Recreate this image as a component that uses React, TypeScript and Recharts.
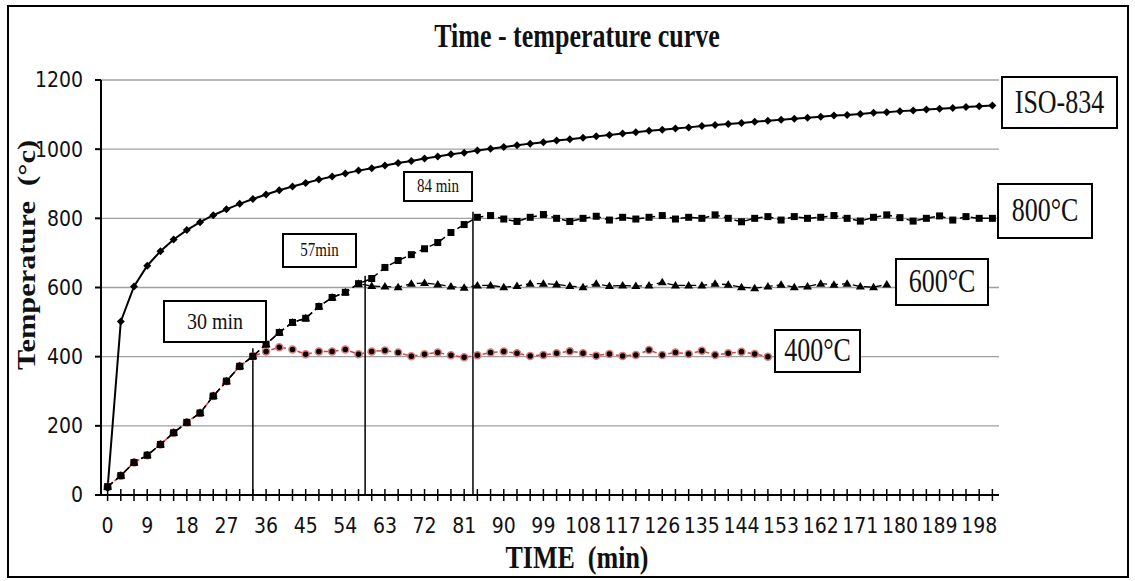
import React from 'react';
import {
  ComposedChart,
  Line,
  XAxis,
  YAxis,
  CartesianGrid,
  ReferenceLine,
} from 'recharts';

// time axis, minutes (one point every 3 min)
const times = [
  0, 3, 6, 9, 12, 15, 18, 21, 24, 27, 30, 33, 36, 39, 42, 45, 48, 51, 54, 57,
  60, 63, 66, 69, 72, 75, 78, 81, 84, 87, 90, 93, 96, 99, 102, 105, 108, 111,
  114, 117, 120, 123, 126, 129, 132, 135, 138, 141, 144, 147, 150, 153, 156,
  159, 162, 165, 168, 171, 174, 177, 180, 183, 186, 189, 192, 195, 198, 201,
];

const iso834 = [
  20, 502, 603, 663, 705, 739, 766, 789, 809, 826, 842, 856, 869, 881, 892, 902,
  912, 921, 930, 938, 945, 953, 960, 966, 973, 979, 985, 990, 996, 1001, 1006,
  1011, 1016, 1020, 1025, 1029, 1033, 1037, 1041, 1045, 1049, 1053, 1056, 1060,
  1063, 1067, 1070, 1073, 1076, 1079, 1082, 1085, 1088, 1091, 1094, 1097, 1099,
  1102, 1105, 1107, 1110, 1112, 1115, 1117, 1119, 1122, 1124, 1126,
];

const furnace800 = [
  24, 56, 94, 115, 146, 180, 210, 237, 286, 329, 372, 401,
  436, 470, 499, 511, 545, 571, 586, 611, 626, 658, 678, 695, 712, 730, 759, 782,
  803, 808, 798, 791, 803, 811, 800, 791, 800, 806, 795, 803, 798, 803, 808, 798,
  803,
  800, 810, 800, 790, 800, 805, 795, 805, 800, 803, 808, 800, 792, 803, 810, 802,
  792, 800, 807, 795, 805, 800, 800,
];

const furnace600 = [
  24, 56, 94, 115, 146, 180, 210, 237, 286, 329, 372, 401,
  436, 470, 499, 511, 545, 571, 586, 611,
  604, 603, 601, 611, 613, 609, 603, 599, 606, 606, 601, 604, 611, 611,
  609, 604, 601, 611, 604, 606, 604, 606, 615, 606, 606,
  606, 611, 608, 601, 598, 603, 608, 601, 603, 611, 608, 611, 603, 601, 609,
  null, null, null, null, null, null, null, null,
];

const furnace400 = [
  24, 56, 94, 115, 146, 180, 210, 237, 286, 329, 372, 401,
  415, 427, 421, 407, 415, 415, 421, 407, 415, 418, 412, 401, 407, 412, 404, 398,
  404, 412, 415, 410, 402, 405,
  410, 416, 410, 403, 408, 402, 405, 419, 405, 412, 408, 417, 405, 410, 414, 408, 400,
  null, null, null, null, null, null, null, null, null, null, null, null, null,
  null, null, null, null,
];

const yTicks = [0, 200, 400, 600, 800, 1000, 1200];

// where the furnace reached its target (vertical marker lines)
const markTimes = [33, 58.5, 83];
const markTops = [424, 634, 819];

const data = times.map((t, i) => ({
  t,
  iso: iso834[i],
  f800: furnace800[i],
  f600: furnace600[i],
  f400: furnace400[i],
}));

const serif = '"Liberation Serif", "Times New Roman", serif';
const narrow = '"Liberation Sans Narrow", "DejaVu Sans Condensed", sans-serif';

function XTick({ x, y, payload }: any) {
  const v = payload.value;
  return (
    <g>
      <line x1={x} x2={x} y1={y - 6} y2={y + 6} stroke="#000" strokeWidth={1.5} />
      {v % 9 === 0 && (
        <text x={x} y={y + 38} textAnchor="middle" fontSize={21} fontFamily={narrow} fill="#111">
          {v}
        </text>
      )}
    </g>
  );
}

const diamond = (p: any) => {
  if (p.cy == null || p.value == null) return <g key={`d${p.index}`} />;
  const s = 4;
  return (
    <polygon
      key={`d${p.index}`}
      points={`${p.cx},${p.cy - s} ${p.cx + s},${p.cy} ${p.cx},${p.cy + s} ${p.cx - s},${p.cy}`}
      fill="#000"
    />
  );
};

const square = (p: any) => {
  if (p.cy == null || p.value == null) return <g key={`s${p.index}`} />;
  return <rect key={`s${p.index}`} x={p.cx - 3.5} y={p.cy - 3.5} width={7} height={7} fill="#000" />;
};

const triangle = (p: any) => {
  if (p.cy == null || p.value == null) return <g key={`t${p.index}`} />;
  return (
    <polygon
      key={`t${p.index}`}
      points={`${p.cx},${p.cy - 4.5} ${p.cx + 4.5},${p.cy + 3} ${p.cx - 4.5},${p.cy + 3}`}
      fill="#000"
    />
  );
};

const circle = (p: any) => {
  if (p.cy == null || p.value == null) return <g key={`c${p.index}`} />;
  return <circle key={`c${p.index}`} cx={p.cx} cy={p.cy} r={3.5} fill="#000" stroke="#e07a7a" strokeWidth={1.5} />;
};

function Box({ left, top, width, height, size, stretch = 1.28, children }: any) {
  return (
    <div
      style={{
        position: 'absolute',
        left,
        top,
        width,
        height,
        boxSizing: 'border-box',
        border: '2px solid #000',
        background: '#fff',
        display: 'flex',
        alignItems: 'center',
        justifyContent: 'center',
        fontFamily: serif,
        fontSize: size,
        color: '#111',
      }}
    >
      <span style={{ display: 'inline-block', transform: `scaleY(${stretch})`, whiteSpace: 'nowrap' }}>
        {children}
      </span>
    </div>
  );
}

export default function App() {
  return (
    <div style={{ position: 'absolute', left: 0, top: 0, width: 1135, height: 581, background: '#fff' }}>
      {/* outer frame */}
      <div
        style={{
          position: 'absolute',
          left: 7,
          top: 5,
          width: 1122,
          height: 573,
          boxSizing: 'border-box',
          border: '2px solid #000',
        }}
      />

      <div style={{ position: 'absolute', left: 0, top: 0 }}>
        <ComposedChart
          width={1135}
          height={581}
          data={data}
          margin={{ top: 80, right: 136, bottom: 26, left: 0 }}
        >
          <CartesianGrid vertical={false} stroke="#a0a0a0" strokeWidth={1.3} />
          <XAxis
            dataKey="t"
            type="number"
            domain={[-1.5, 202.5]}
            ticks={times}
            interval={0}
            height={60}
            tickSize={0}
            tickMargin={0}
            tick={<XTick />}
            axisLine={{ stroke: '#000', strokeWidth: 2 }}
            tickLine={false}
          />
          <YAxis
            type="number"
            domain={[0, 1200]}
            ticks={yTicks}
            width={101}
            tickSize={6}
            tickMargin={12}
            axisLine={{ stroke: '#000', strokeWidth: 2 }}
            tickLine={{ stroke: '#000', strokeWidth: 2 }}
            tick={{ fontSize: 21, fontFamily: narrow, fill: '#111' }}
          />

          {markTimes.map((m, i) => (
            <ReferenceLine
              key={m}
              segment={[{ x: m, y: 0 }, { x: m, y: markTops[i] }]}
              stroke="#000"
              strokeWidth={1.5}
            />
          ))}

          <Line
            dataKey="f400"
            stroke="#d04545"
            strokeWidth={1.5}
            strokeDasharray="6 3"
            dot={circle}
            activeDot={false}
            isAnimationActive={false}
          />
          <Line
            dataKey="f600"
            stroke="#000"
            strokeWidth={1.3}
            strokeDasharray="7 4"
            dot={triangle}
            activeDot={false}
            isAnimationActive={false}
          />
          <Line
            dataKey="f800"
            stroke="#000"
            strokeWidth={1.5}
            strokeDasharray="7 4"
            dot={square}
            activeDot={false}
            isAnimationActive={false}
          />
          <Line
            dataKey="iso"
            stroke="#000"
            strokeWidth={2}
            dot={diamond}
            activeDot={false}
            isAnimationActive={false}
          />
        </ComposedChart>
      </div>

      {/* title */}
      <div
        style={{
          position: 'absolute',
          left: 377,
          top: 22,
          width: 400,
          height: 30,
          lineHeight: '30px',
          textAlign: 'center',
          fontFamily: serif,
          fontWeight: 'bold',
          fontSize: 26,
          color: '#111',
          transform: 'scaleY(1.3)',
        }}
      >
        Time - temperature curve
      </div>

      {/* y axis title */}
      <div
        style={{
          position: 'absolute',
          left: 27 - 150,
          top: 255 - 16,
          width: 300,
          height: 32,
          lineHeight: '32px',
          textAlign: 'center',
          fontFamily: serif,
          fontWeight: 'bold',
          fontSize: 26,
          color: '#111',
          whiteSpace: 'pre',
          transform: 'rotate(-90deg) scaleX(1.17)',
        }}
      >
        {'Temperature  (°c)'}
      </div>

      {/* x axis title */}
      <div
        style={{
          position: 'absolute',
          left: 377,
          top: 543,
          width: 400,
          height: 30,
          lineHeight: '30px',
          textAlign: 'center',
          fontFamily: serif,
          fontWeight: 'bold',
          fontSize: 26,
          color: '#111',
          whiteSpace: 'pre',
          transform: 'scaleY(1.2)',
        }}
      >
        {'TIME  (min)'}
      </div>

      <Box left={1001} top={76} width={117} height={53} size={26}>ISO-834</Box>
      <Box left={997} top={183} width={96} height={56} size={26}>800°C</Box>
      <Box left={895} top={258} width={94} height={48} size={26}>600°C</Box>
      <Box left={774} top={329} width={87} height={44} size={26}>400°C</Box>
      <Box left={163} top={300} width={104} height={43} size={20} stretch={1.15}>30 min</Box>
      <Box left={282} top={233} width={75} height={35} size={15} stretch={1.2}>57min</Box>
      <Box left={403} top={171} width={70} height={31} size={15} stretch={1.2}>84 min</Box>
    </div>
  );
}
